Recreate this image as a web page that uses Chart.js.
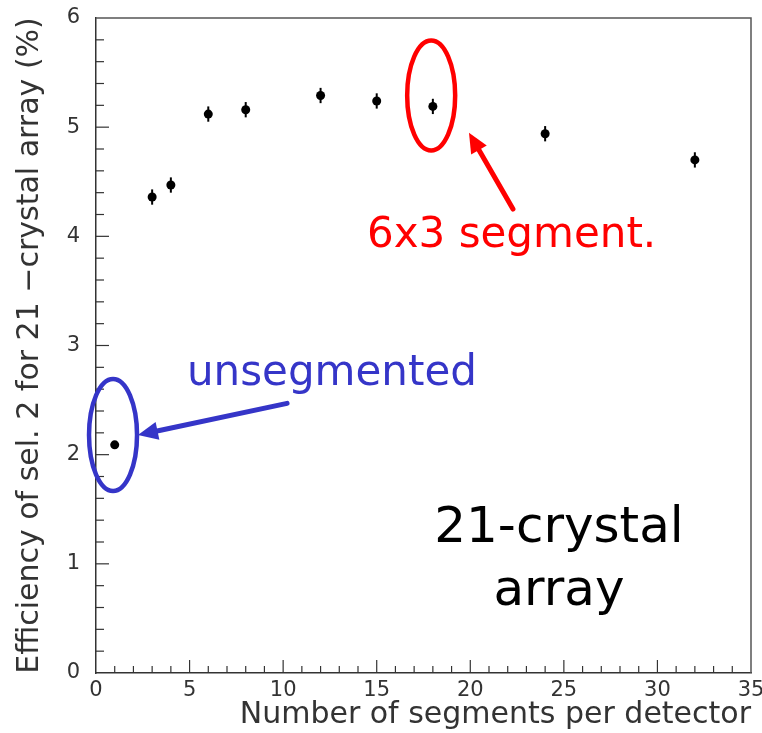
<!DOCTYPE html>
<html>
<head>
<meta charset="utf-8">
<script src="https://cdn.jsdelivr.net/npm/chart.js@4.4.1/dist/chart.umd.min.js"></script>
<style>
  html, body { margin: 0; padding: 0; background: #fff; }
  #wrap { width: 762px; height: 733px; position: relative; }
</style>
</head>
<body>
<div id="wrap"><canvas id="chart"></canvas></div>
<script>
/* ── Data ── */
const segments   = [1, 3, 4, 6, 8, 12, 15, 18, 24, 32];
const efficiency = [2.09, 4.36, 4.47, 5.12, 5.16, 5.29, 5.24, 5.19, 4.94, 4.70];
const errors     = [0.03, 0.07, 0.07, 0.07, 0.07, 0.07, 0.07, 0.07, 0.07, 0.07];
const xTickValues = [0, 5, 10, 15, 20, 25, 30, 35];
const yTickValues = [0, 1, 2, 3, 4, 5, 6];

const AXIS = '#333';
const FONT = "'DejaVu Sans', sans-serif";

/* ── Frame, inner ticks, error bars ── */
const frame = {
  id: 'frame',
  beforeDatasetsDraw(chart) {
    const { ctx, chartArea: a, scales: { x, y } } = chart;
    const seg = (x1, y1, x2, y2) => { ctx.beginPath(); ctx.moveTo(x1, y1); ctx.lineTo(x2, y2); ctx.stroke(); };
    ctx.save();
    ctx.strokeStyle = '#555'; ctx.lineWidth = 1.5;
    ctx.beginPath(); ctx.moveTo(a.left, a.top); ctx.lineTo(a.right, a.top); ctx.lineTo(a.right, a.bottom); ctx.stroke();

    ctx.strokeStyle = AXIS; ctx.lineWidth = 1.2;
    for (let i = 1; i < 35; i++) {
      const px = x.getPixelForValue(i);
      seg(px, a.bottom, px, a.bottom - (i % 5 ? 7 : 13));
    }
    for (let i = 1; i < 30; i++) {
      const py = y.getPixelForValue(i / 5);
      seg(a.left, py, a.left + (i % 5 ? 8 : 13), py);
    }

    ctx.strokeStyle = '#000'; ctx.lineWidth = 2;
    segments.forEach((s, i) => {
      const px = x.getPixelForValue(s);
      seg(px, y.getPixelForValue(efficiency[i] - errors[i]), px, y.getPixelForValue(efficiency[i] + errors[i]));
    });
    ctx.restore();
  }
};

/* ── Hand-drawn annotations ── */
function arrow(ctx, x1, y1, x2, y2, color) {
  const ang = Math.atan2(y2 - y1, x2 - x1);
  const head = 20, half = 9;
  ctx.strokeStyle = color; ctx.fillStyle = color; ctx.lineWidth = 5; ctx.lineCap = 'round';
  ctx.beginPath();
  ctx.moveTo(x1, y1);
  ctx.lineTo(x2 - Math.cos(ang) * head * 0.8, y2 - Math.sin(ang) * head * 0.8);
  ctx.stroke();
  ctx.beginPath();
  ctx.moveTo(x2, y2);
  ctx.lineTo(x2 - Math.cos(ang) * head - Math.sin(ang) * half, y2 - Math.sin(ang) * head + Math.cos(ang) * half);
  ctx.lineTo(x2 - Math.cos(ang) * head + Math.sin(ang) * half, y2 - Math.sin(ang) * head - Math.cos(ang) * half);
  ctx.closePath();
  ctx.fill();
}

const notes = {
  id: 'notes',
  afterDatasetsDraw(chart) {
    const { ctx, scales: { x, y } } = chart;
    const X = v => x.getPixelForValue(v), Y = v => y.getPixelForValue(v);
    ctx.save();

    // red: 6x3 segmentation
    ctx.strokeStyle = '#ff0000'; ctx.lineWidth = 4.5;
    ctx.beginPath(); ctx.ellipse(X(17.91), Y(5.29), 24, 55, 0, 0, Math.PI * 2); ctx.stroke();
    arrow(ctx, X(22.28), Y(4.25), X(19.93), Y(4.95), '#ff0000');
    ctx.fillStyle = '#ff0000';
    ctx.font = `42px ${FONT}`; ctx.textAlign = 'left'; ctx.textBaseline = 'alphabetic';
    ctx.fillText('6x3 segment.', X(14.48), Y(3.90));

    // blue: unsegmented
    ctx.strokeStyle = '#3535c8'; ctx.lineWidth = 4.5;
    ctx.beginPath(); ctx.ellipse(X(0.91), Y(2.18), 24, 56, 0, 0, Math.PI * 2); ctx.stroke();
    arrow(ctx, X(10.21), Y(2.47), X(2.24), Y(2.18), '#3535c8');
    ctx.fillStyle = '#3535c8';
    ctx.fillText('unsegmented', X(4.86), Y(2.64));

    // black label
    ctx.fillStyle = '#000';
    ctx.font = `50px ${FONT}`; ctx.textAlign = 'center';
    ctx.fillText('21-crystal', X(24.74), Y(1.20));
    ctx.fillText('array', X(24.74), Y(0.62));
    ctx.restore();
  }
};

/* ── Chart ── */
new Chart(document.getElementById('chart'), {
  type: 'scatter',
  data: {
    datasets: [{
      data: segments.map((s, i) => ({ x: s, y: efficiency[i] })),
      pointRadius: 4.5, pointBorderWidth: 0,
      pointBackgroundColor: '#000', showLine: false
    }]
  },
  options: {
    responsive: true, maintainAspectRatio: false, animation: false,
    layout: { padding: { top: 18, right: 11, left: 0, bottom: 0 } },
    plugins: { legend: { display: false }, tooltip: { enabled: false } },
    scales: {
      x: {
        type: 'linear', min: 0, max: 35,
        afterBuildTicks: s => { s.ticks = xTickValues.map(v => ({ value: v })); },
        afterFit: s => { s.height = 60; s.paddingLeft = 0; s.paddingRight = 0; },
        grid: { display: false, drawTicks: false },
        border: { display: true, color: AXIS, width: 1.5 },
        ticks: { autoSkip: false, maxRotation: 0, padding: 5, color: AXIS, font: { family: FONT, size: 21 } },
        title: {
          display: true, align: 'end', text: 'Number of segments per detector',
          color: AXIS, font: { family: FONT, size: 30 }, padding: { top: 0, bottom: 0 }
        }
      },
      y: {
        type: 'linear', min: 0, max: 6,
        afterBuildTicks: s => { s.ticks = yTickValues.map(v => ({ value: v })); },
        afterFit: s => { s.width = 96; s.paddingTop = 0; s.paddingBottom = 0; },
        grid: { display: false, drawTicks: false },
        border: { display: true, color: AXIS, width: 1.5 },
        ticks: { autoSkip: false, padding: 16, color: AXIS, font: { family: FONT, size: 21 } },
        title: {
          display: true, text: 'Efficiency of sel. 2 for 21 \u2212crystal array (%)',
          color: AXIS, font: { family: FONT, size: 30 }, padding: { top: 12, bottom: 0 }
        }
      }
    }
  },
  plugins: [frame, notes]
});
</script>
</body>
</html>
